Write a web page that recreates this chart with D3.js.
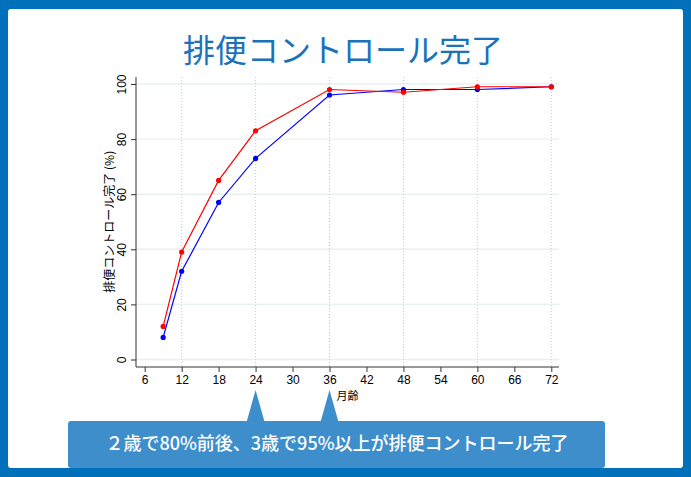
<!DOCTYPE html>
<html><head><meta charset="utf-8">
<script src="https://cdn.jsdelivr.net/npm/d3@7"></script>
<style>html,body{margin:0;padding:0;background:#0070bb;}svg{display:block}</style>
</head><body>
<svg id="c" width="691" height="477"></svg>
<script>
const months = [9, 12, 18, 24, 36, 48, 60, 72];
const seriesRed = [12, 39, 65, 83, 98, 97, 99, 99];
const seriesBlue = [8, 32, 57, 73, 96, 98, 98, 99];
const xTicks = [6, 12, 18, 24, 30, 36, 42, 48, 54, 60, 66, 72];
const xGrid = [12, 24, 36, 48, 60, 72];
const yTicks = [0, 20, 40, 60, 80, 100];
const titleText = "排便コントロール完了";
const yTitle = "排便コントロール完了 (%)";
const xTitle = "月齢";
const calloutText = "２歳で80%前後、3歳で95%以上が排便コントロール完了";
const calloutMonths = [24, 36];

(function () {
const svg = d3.select("#c");
const W = 691, H = 477;
const jp = "'Noto Sans CJK JP','Noto Sans',sans-serif";
const num = "'Liberation Sans',Arial,sans-serif";

svg.append("rect").attr("width", W).attr("height", H).attr("fill", "#0070bb");
svg.append("rect").attr("x", 8).attr("y", 9).attr("width", 675).attr("height", 459)
  .attr("rx", 3).attr("fill", "#fff");

svg.append("text").attr("x", 343).attr("y", 62).attr("text-anchor", "middle")
  .attr("font-family", jp).attr("font-size", 32).attr("fill", "#1a72ba").text(titleText);

const x = d3.scaleLinear().domain([6, 72]).range([144.7, 551.3]);
const y = d3.scaleLinear().domain([0, 100]).range([359.5, 84]);
const pL = 136, pR = 559, pB = 367, pT = 77;

const g = svg.append("g");
g.selectAll(".hg").data(yTicks).join("line")
  .attr("x1", pL).attr("x2", pR).attr("y1", d => y(d)).attr("y2", d => y(d))
  .attr("stroke", "#e8f0f0").attr("stroke-width", 1.4);
g.selectAll(".vg").data(xGrid).join("line")
  .attr("x1", d => x(d)).attr("x2", d => x(d)).attr("y1", pT).attr("y2", pB)
  .attr("stroke", "#c8c8c8").attr("stroke-width", 1).attr("stroke-dasharray", "1,2");

const xAxis = d3.axisBottom(x).tickValues(xTicks).tickSize(5).tickPadding(3).tickSizeOuter(0);
const xa = svg.append("g").attr("transform", `translate(0,${pB})`).call(xAxis);
xa.select(".domain").attr("d", `M${pL},0H${pR}`).attr("stroke", "#333");
xa.selectAll(".tick line").attr("stroke", "#333");
xa.selectAll("text").attr("font-family", num).attr("font-size", 12).attr("fill", "#000");

const yAxis = d3.axisLeft(y).tickValues(yTicks).tickSize(5).tickSizeOuter(0);
const ya = svg.append("g").attr("transform", `translate(${pL},0)`).call(yAxis);
ya.select(".domain").attr("d", `M0,${pB}V${pT}`).attr("stroke", "#333");
ya.selectAll(".tick line").attr("stroke", "#333");
ya.selectAll("text").attr("font-family", num).attr("font-size", 12).attr("fill", "#000")
  .attr("transform", "rotate(-90)").attr("x", 0).attr("y", -10)
  .attr("text-anchor", "middle").attr("dy", "0");

svg.append("text").attr("transform", `translate(114,${(y(0)+y(100))/2}) rotate(-90)`)
  .attr("text-anchor", "middle").attr("font-family", jp).attr("font-size", 12)
  .attr("fill", "#000").text(yTitle);
svg.append("text").attr("x", (pL + pR) / 2).attr("y", 400).attr("text-anchor", "middle")
  .attr("font-family", jp).attr("font-size", 11).attr("fill", "#000").text(xTitle);

const line = d3.line().x(d => x(d[0])).y(d => y(d[1]));
const series = [
  { vals: seriesBlue, color: "#0000ff" },
  { vals: seriesRed, color: "#ff0000" }
];
series.forEach(s => {
  const pts = months.map((m, i) => [m, s.vals[i]]);
  svg.append("path").attr("d", line(pts)).attr("fill", "none")
    .attr("stroke", s.color).attr("stroke-width", 1.2);
  svg.append("g").selectAll("circle").data(pts).join("circle")
    .attr("cx", d => x(d[0])).attr("cy", d => y(d[1])).attr("r", 2.6).attr("fill", s.color);
});

const cb = svg.append("g");
cb.append("rect").attr("x", 68).attr("y", 421).attr("width", 537).attr("height", 47)
  .attr("rx", 3).attr("fill", "#3d8ecb");
calloutMonths.forEach(m => {
  const cx = x(m);
  cb.append("path").attr("d", `M${cx - 9},422L${cx},390L${cx + 9},422Z`).attr("fill", "#3d8ecb");
});
cb.append("text").attr("x", 337).attr("y", 450).attr("text-anchor", "middle")
  .attr("font-family", jp).attr("font-size", 18).attr("font-weight", 500)
  .attr("fill", "#fff").text(calloutText);
})();
</script>
</body></html>
